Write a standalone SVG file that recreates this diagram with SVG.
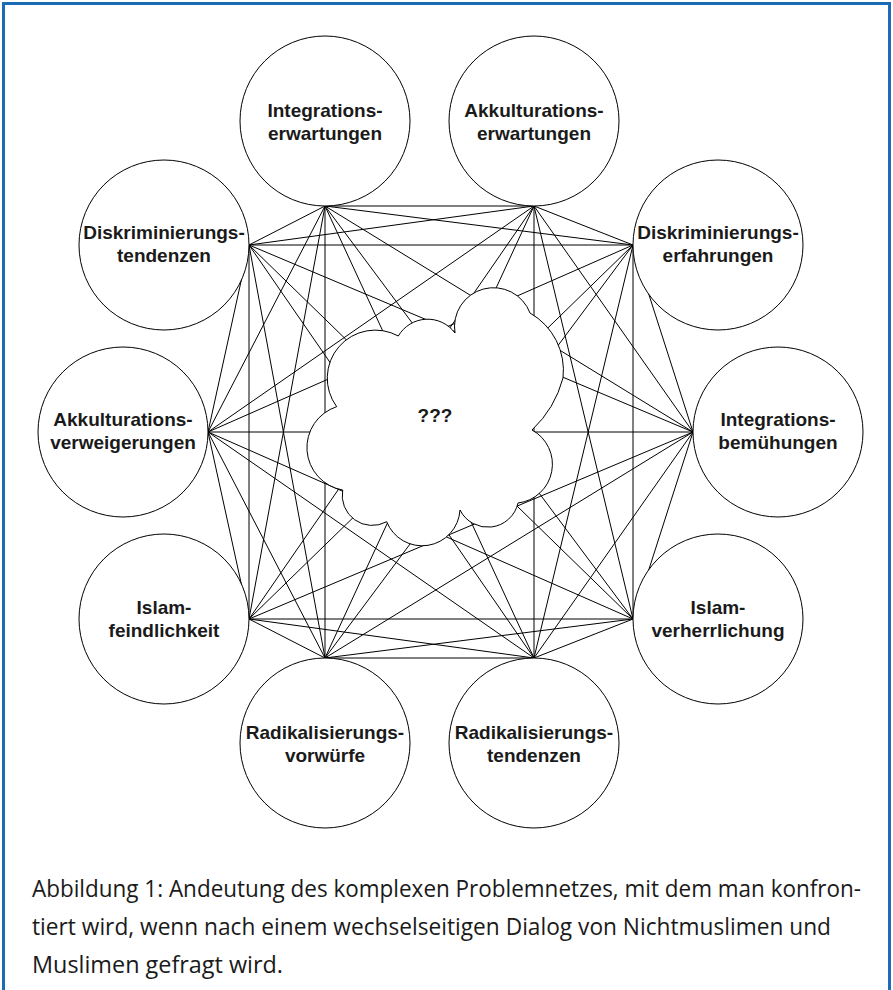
<svg xmlns="http://www.w3.org/2000/svg" width="893" height="990" viewBox="0 0 893 990">
<style>
.bg{fill:#ffffff}
.frame{fill:none;stroke:#1b6cb4;stroke-width:3}
.node circle{fill:#ffffff;stroke:#000000;stroke-width:1}
.lbl{font-family:"Liberation Sans",Arial,Helvetica,sans-serif;font-weight:bold;font-size:19px;fill:#1a1a1a;text-anchor:middle}
#connectors line{stroke:#000000;stroke-width:1}
.cloud{fill:#ffffff;stroke:#000000;stroke-width:1}
.cap{font-family:"Open Sans","Noto Sans",sans-serif;font-size:23px;fill:#1a1a1a}
</style>
<rect class="bg" x="0" y="0" width="893" height="990"/>
<path class="frame" d="M3.5 990 V3.5 H889.5 V990"/>
<g id="connectors">
<line x1="325" y1="206" x2="534" y2="206"/>
<line x1="325" y1="206" x2="633" y2="245"/>
<line x1="325" y1="206" x2="693" y2="432"/>
<line x1="325" y1="206" x2="633" y2="619"/>
<line x1="325" y1="206" x2="534" y2="658"/>
<line x1="325" y1="206" x2="325" y2="658"/>
<line x1="325" y1="206" x2="249" y2="619"/>
<line x1="325" y1="206" x2="208" y2="432"/>
<line x1="325" y1="206" x2="249" y2="245"/>
<line x1="534" y1="206" x2="633" y2="245"/>
<line x1="534" y1="206" x2="693" y2="432"/>
<line x1="534" y1="206" x2="633" y2="619"/>
<line x1="534" y1="206" x2="534" y2="658"/>
<line x1="534" y1="206" x2="325" y2="658"/>
<line x1="534" y1="206" x2="249" y2="619"/>
<line x1="534" y1="206" x2="208" y2="432"/>
<line x1="534" y1="206" x2="249" y2="245"/>
<line x1="633" y1="245" x2="693" y2="432"/>
<line x1="633" y1="245" x2="633" y2="619"/>
<line x1="633" y1="245" x2="534" y2="658"/>
<line x1="633" y1="245" x2="325" y2="658"/>
<line x1="633" y1="245" x2="249" y2="619"/>
<line x1="633" y1="245" x2="208" y2="432"/>
<line x1="633" y1="245" x2="249" y2="245"/>
<line x1="693" y1="432" x2="633" y2="619"/>
<line x1="693" y1="432" x2="534" y2="658"/>
<line x1="693" y1="432" x2="325" y2="658"/>
<line x1="693" y1="432" x2="249" y2="619"/>
<line x1="693" y1="432" x2="208" y2="432"/>
<line x1="693" y1="432" x2="249" y2="245"/>
<line x1="633" y1="619" x2="534" y2="658"/>
<line x1="633" y1="619" x2="325" y2="658"/>
<line x1="633" y1="619" x2="249" y2="619"/>
<line x1="633" y1="619" x2="208" y2="432"/>
<line x1="633" y1="619" x2="249" y2="245"/>
<line x1="534" y1="658" x2="325" y2="658"/>
<line x1="534" y1="658" x2="249" y2="619"/>
<line x1="534" y1="658" x2="208" y2="432"/>
<line x1="534" y1="658" x2="249" y2="245"/>
<line x1="325" y1="658" x2="249" y2="619"/>
<line x1="325" y1="658" x2="208" y2="432"/>
<line x1="325" y1="658" x2="249" y2="245"/>
<line x1="249" y1="619" x2="208" y2="432"/>
<line x1="249" y1="619" x2="249" y2="245"/>
<line x1="208" y1="432" x2="249" y2="245"/>
</g>
<g id="node-center">
<path class="cloud" d="M336.7 406.7 A48 48 0 0 1 398.3 336 A34 34 0 0 1 455 333 A39 39 0 0 1 530 313 A66 66 0 0 1 563 378 A110 110 0 0 1 532 430 A39 39 0 0 1 518 503 A31 31 0 0 1 460 510 A38 38 0 0 1 386.7 521.7 A30 30 0 0 1 342.7 490 A43 43 0 0 1 336.7 406.7 Z"/>
<text class="lbl" x="435" y="422">???</text>
</g>
<g id="node-integrationserwartungen" class="node">
<circle cx="325" cy="121" r="85"/>
<text class="lbl" x="325" y="117">Integrations-</text>
<text class="lbl" x="325" y="140">erwartungen</text>
</g>
<g id="node-akkulturationserwartungen" class="node">
<circle cx="534" cy="121" r="85"/>
<text class="lbl" x="534" y="117">Akkulturations-</text>
<text class="lbl" x="534" y="140">erwartungen</text>
</g>
<g id="node-diskriminierungserfahrungen" class="node">
<circle cx="718" cy="245" r="85"/>
<text class="lbl" x="718" y="239">Diskriminierungs-</text>
<text class="lbl" x="718" y="262">erfahrungen</text>
</g>
<g id="node-integrationsbemuehungen" class="node">
<circle cx="778" cy="432" r="85"/>
<text class="lbl" x="778" y="426">Integrations-</text>
<text class="lbl" x="778" y="449">bemühungen</text>
</g>
<g id="node-islamverherrlichung" class="node">
<circle cx="718" cy="619" r="85"/>
<text class="lbl" x="718" y="614">Islam-</text>
<text class="lbl" x="718" y="637">verherrlichung</text>
</g>
<g id="node-radikalisierungstendenzen" class="node">
<circle cx="534" cy="743" r="85"/>
<text class="lbl" x="534" y="739">Radikalisierungs-</text>
<text class="lbl" x="534" y="762">tendenzen</text>
</g>
<g id="node-radikalisierungsvorwuerfe" class="node">
<circle cx="325" cy="743" r="85"/>
<text class="lbl" x="325" y="739">Radikalisierungs-</text>
<text class="lbl" x="325" y="762">vorwürfe</text>
</g>
<g id="node-islamfeindlichkeit" class="node">
<circle cx="164" cy="619" r="85"/>
<text class="lbl" x="164" y="614">Islam-</text>
<text class="lbl" x="164" y="637">feindlichkeit</text>
</g>
<g id="node-akkulturationsverweigerungen" class="node">
<circle cx="123" cy="432" r="85"/>
<text class="lbl" x="123" y="426">Akkulturations-</text>
<text class="lbl" x="123" y="449">verweigerungen</text>
</g>
<g id="node-diskriminierungstendenzen" class="node">
<circle cx="164" cy="245" r="85"/>
<text class="lbl" x="164" y="239">Diskriminierungs-</text>
<text class="lbl" x="164" y="262">tendenzen</text>
</g>
<g id="caption">
<text class="cap" x="32" y="897" textLength="829" lengthAdjust="spacingAndGlyphs">Abbildung 1: Andeutung des komplexen Problemnetzes, mit dem man konfron-</text>
<text class="cap" x="32" y="935" textLength="799" lengthAdjust="spacingAndGlyphs">tiert wird, wenn nach einem wechselseitigen Dialog von Nichtmuslimen und</text>
<text class="cap" x="32" y="973" textLength="251" lengthAdjust="spacingAndGlyphs">Muslimen gefragt wird.</text>
</g>
</svg>
